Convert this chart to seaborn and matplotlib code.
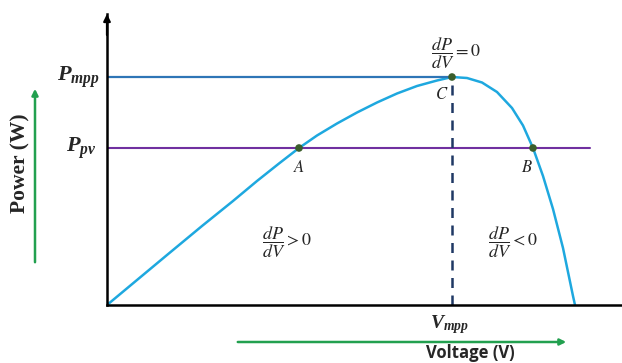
import matplotlib
matplotlib.use("Agg")
import matplotlib.pyplot as plt
from matplotlib.patches import FancyArrowPatch
import seaborn as sns
import pandas as pd

# P-V characteristic of a PV module (arbitrary units)
voltage = [0, 30, 60, 95, 126, 150, 172, 192, 210, 230, 250, 270, 290, 310,
           330, 345, 360, 375, 390, 405, 416, 426, 436, 446, 456, 466, 468]
power = [0, 25, 50, 79, 104, 124, 141.5, 157, 169.5, 181.5, 192.5, 202.5, 211.5,
         219, 224.5, 228, 227, 222.5, 213, 197, 179.5, 157, 129, 96, 57, 9, 0]

# operating points
v_mpp, p_mpp = 345, 228
p_pv = 157
point_labels = ["A", "B", "C"]
point_v = [192, 426, 345]
point_p = [157, 157, 228]

df = pd.DataFrame({"V": voltage, "P": power})

sns.set_theme(style="white")
plt.rcParams["font.family"] = ["DejaVu Sans"]
plt.rcParams["mathtext.fontset"] = "stix"
# bold italic serif for the P/V level labels
plt.rcParams["mathtext.it"] = "Liberation Serif:italic:bold"
plt.rcParams["mathtext.rm"] = "Liberation Serif:bold"

fig = plt.figure(figsize=(6.22, 3.63), dpi=100)
W, H = 622, 363
ax = fig.add_axes([107 / W, (H - 305) / H, (621 - 107) / W, (305 - 14) / H])
ax.set_xlim(0, 514)
ax.set_ylim(0, 291)

# P-V curve
sns.lineplot(data=df, x="V", y="P", ax=ax, color="#1ea8df", lw=1.8, sort=False)

# reference lines
ax.plot([0, v_mpp], [p_mpp, p_mpp], color="#2e75b6", lw=1.6)
ax.plot([0, 483], [p_pv, p_pv], color="#7030a0", lw=1.5)
ax.plot([v_mpp, v_mpp], [0, p_mpp], color="#1f3864", lw=1.8, ls=(0, (4, 3)))

# operating points
sns.scatterplot(x=point_v, y=point_p, ax=ax, color="#3b5e2b", s=30, zorder=5,
                edgecolor="none", marker="o")
label_dx = [0, -6, -10]
label_dy = [-10, -10, -8]
for name, v, p, dx, dy in zip(point_labels, point_v, point_p, label_dx, label_dy):
    ax.text(v + dx, p + dy, f"${name}$", ha="center", va="top", fontsize=12,
            math_fontfamily="stix")

# slope annotations
ax.text(v_mpp + 4, 252, r"$\dfrac{dP}{dV} = 0$", ha="center", va="center",
        fontsize=13, math_fontfamily="stix")
ax.text(180, 63, r"$\dfrac{dP}{dV} > 0$", ha="center", va="center",
        fontsize=13, math_fontfamily="stix")
ax.text(406, 63, r"$\dfrac{dP}{dV} < 0$", ha="center", va="center",
        fontsize=13, math_fontfamily="stix")

# axes: only left and bottom, with an arrow on the power axis
for s in ["top", "right"]:
    ax.spines[s].set_visible(False)
for s in ["left", "bottom"]:
    ax.spines[s].set_color("black")
    ax.spines[s].set_linewidth(1.8)
ax.set_xticks([])
ax.set_yticks([])
ax.set_xlabel("")
ax.set_ylabel("")
ax.annotate("", xy=(0, 291), xytext=(0, 270), xycoords="data",
            arrowprops=dict(arrowstyle="-|>", color="black", lw=1.6,
                            mutation_scale=10, shrinkA=0, shrinkB=0),
            annotation_clip=False)

# level labels
ax.text(-7, p_mpp, r"$P_{mpp}$", ha="right", va="center", fontsize=16,
        math_fontfamily="custom", clip_on=False)
ax.text(-11, p_pv, r"$P_{pv}$", ha="right", va="center", fontsize=16,
        math_fontfamily="custom", clip_on=False)
ax.text(v_mpp - 3, -20, r"$V_{mpp}$", ha="center", va="center",
        fontsize=14, math_fontfamily="custom", clip_on=False)

# axis titles with green direction arrows
fig.text(20 / W, 1 - 163 / H, "Power (W)", rotation=90, ha="center", va="center",
         fontsize=15.5, fontweight="bold", family="Liberation Serif")
fig.text(470 / W, 1 - 353 / H, "Voltage (V)", ha="center", va="center",
         fontsize=12, fontweight="bold", family="Open Sans")
green = "#22a04f"
fig.add_artist(FancyArrowPatch(
    (35 / W, 1 - 265 / H), (35 / W, 1 - 86 / H), transform=fig.transFigure,
    arrowstyle="-|>", mutation_scale=9, color=green, lw=1.8))
fig.add_artist(FancyArrowPatch(
    (235 / W, 1 - 342 / H), (569 / W, 1 - 342 / H), transform=fig.transFigure,
    arrowstyle="-|>", mutation_scale=9, color=green, lw=1.8))

fig.savefig("out.png", dpi=100, facecolor="white")
